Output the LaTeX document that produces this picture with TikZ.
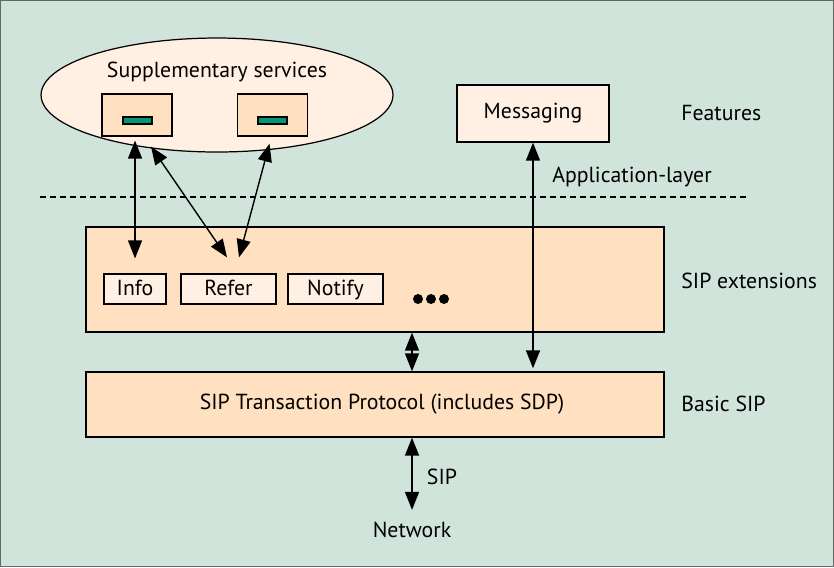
\documentclass[tikz,border=0pt]{standalone}
\usepackage{fontspec}
\setmainfont{PT Sans}
\usetikzlibrary{arrows.meta, shapes.geometric}

\definecolor{bgcol}{RGB}{208,228,219}
\definecolor{peach}{RGB}{255,224,192}
\definecolor{pale}{RGB}{255,240,227}
\definecolor{barcol}{RGB}{0,150,118}

\begin{document}
\begin{tikzpicture}[x=0.02cm,y=-0.02cm,font=\fontsize{12.4}{14}\selectfont,
    layer/.style={draw,fill=peach,line width=0.7pt,inner sep=0pt},
    feature/.style={draw,fill=pale,line width=0.7pt,inner sep=0pt},
    cmd/.style={draw,fill=pale,line width=0.7pt,inner sep=0pt,minimum height=0.6cm,
        text height=0.7em,text depth=0em},
    bar/.style={draw,fill=barcol,line width=0.6pt,inner sep=0pt,
        minimum width=0.58cm,minimum height=0.14cm},
    dotmark/.style={circle,fill=black,inner sep=0pt,minimum size=0.2cm},
    sidelabel/.style={anchor=west,inner sep=0pt},
    dblarrow/.style={line width=0.8pt,{Triangle[length=0.36cm,width=0.28cm]}-{Triangle[length=0.36cm,width=0.28cm]}}]
        % background
        \draw [fill=bgcol,draw=black!60,line width=0.6pt] (0.5,0.5) rectangle (833.5,566.5);

        % features
        \node [feature,ellipse,minimum width=7.04cm,minimum height=2.28cm]
            (supp) at (217,95) {};
        \node (supptext) at (217,72) {Supplementary services};
        \node [layer,minimum width=1.4cm,minimum height=0.84cm] (srv1) at (137,115) {};
        \node [layer,minimum width=1.4cm,minimum height=0.84cm] (srv2) at (272.5,115) {};
        \node [bar] (bar1) at (137.5,120.5) {};
        \node [bar] (bar2) at (272.5,120.5) {};
        \node [feature,minimum width=3.04cm,minimum height=1.14cm]
            (msg) at (533,113.5) {Messaging};
        \node [sidelabel] (features) at (681,113) {Features};
        \node (applayer) at (632,177) {Application-layer};
        \draw [dashed,dash pattern=on 0.12cm off 0.08cm,line width=0.6pt]
            (40,197) -- (748,197);

        % SIP extensions
        \node [layer,minimum width=11.56cm,minimum height=2.1cm] (ext) at (375,279.5) {};
        \node [cmd,minimum width=1.24cm] (info) at (135,289) {Info};
        \node [cmd,minimum width=1.9cm] (refer) at (228.5,289) {Refer};
        \node [cmd,minimum width=1.9cm] (notify) at (335.5,289) {Notify};
        \foreach \i/\x in {1/418,2/431,3/444}
            \node [dotmark] (dot\i) at (\x,299) {};
        \node [sidelabel] (extlabel) at (681,281) {SIP extensions};

        % basic SIP
        \node [layer,minimum width=11.56cm,minimum height=1.3cm]
            (basic) at (375,404.5) {\hspace{0.28cm}SIP Transaction Protocol (includes SDP)};
        \node [sidelabel] (basiclabel) at (681,404) {Basic SIP};
        \node (network) at (412,530) {Network};
        \node (siplabel) at (442,477) {SIP};

        % connectors
        \draw [dblarrow] ([yshift=-0.08cm]info.north |- srv1.south)
            -- ([yshift=0.3cm]info.north);
        \draw [dblarrow] ([xshift=-0.03cm,yshift=0.32cm]refer.north)
            -- ([xshift=0.28cm,yshift=-0.2cm]srv1.south);
        \draw [dblarrow] ([xshift=0.21cm,yshift=0.32cm]refer.north)
            -- ([xshift=-0.06cm,yshift=-0.14cm]srv2.south);
        \draw [dblarrow] (msg.south)
            -- ([yshift=0.06cm]msg.south |- basic.north);
        \draw [dblarrow] ([xshift=0.74cm]ext.south)
            -- ([xshift=0.74cm]ext.south |- basic.north);
        \draw [dblarrow] (basic.south -| network)
            -- ([yshift=0.12cm]network.north);
\end{tikzpicture}
\end{document}
